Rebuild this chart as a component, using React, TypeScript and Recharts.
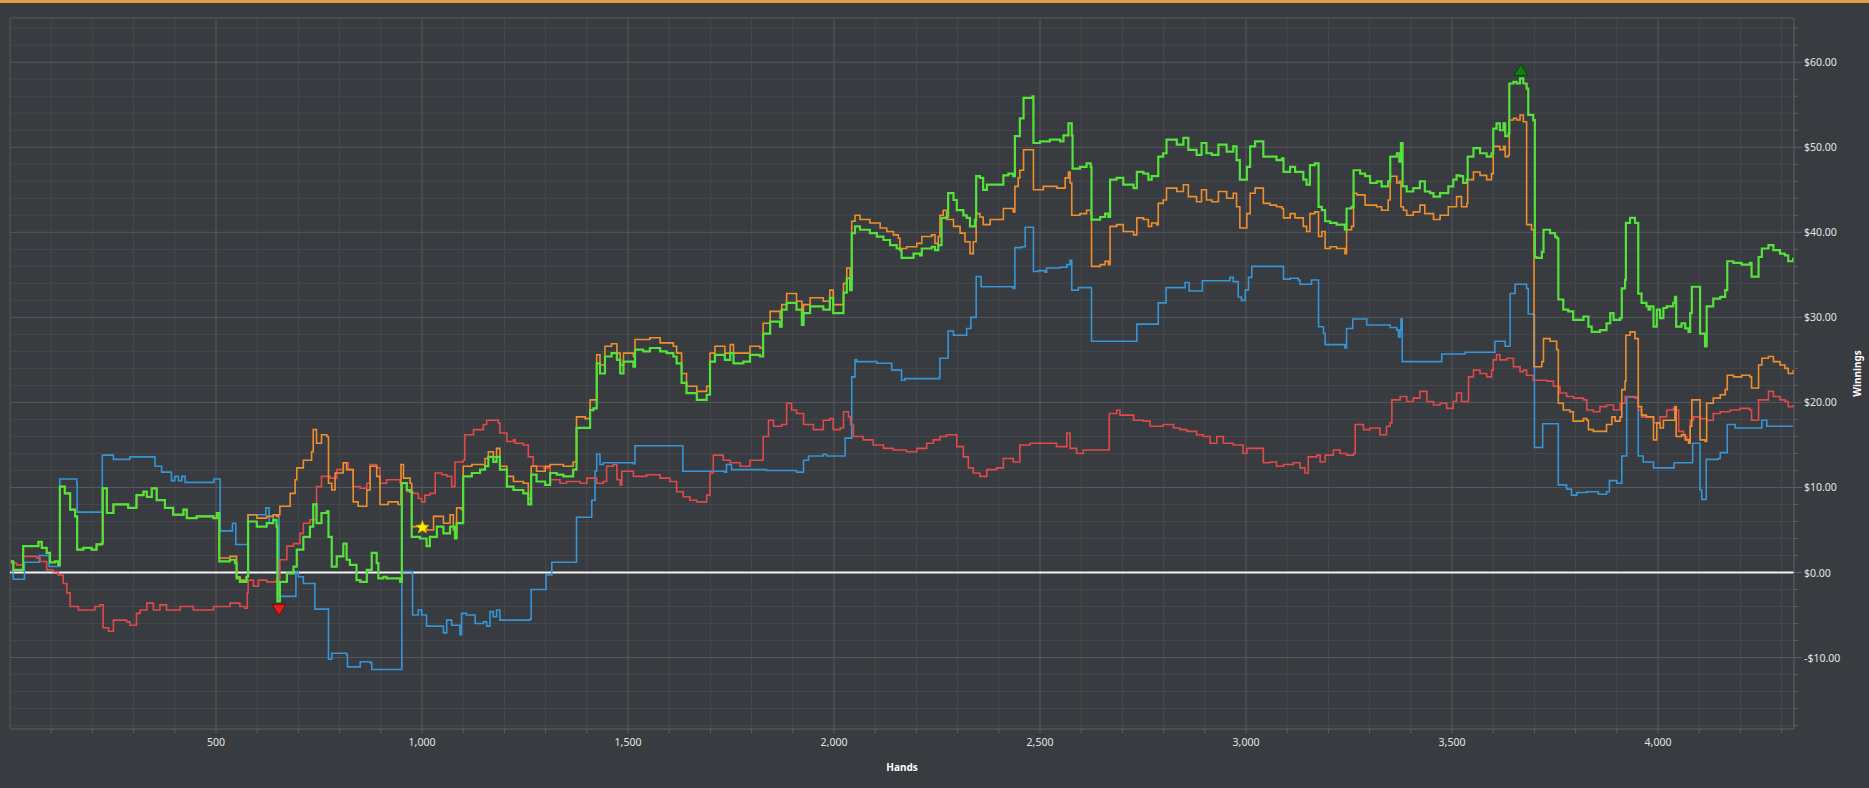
import {
  LineChart,
  Line,
  XAxis,
  YAxis,
  CartesianGrid,
  ReferenceLine,
  ReferenceDot,
} from 'recharts';

// [hands, winnings] pairs
const GREEN: [number, number][] = [
  [2, 1.3], [8, 0.3], [32, 3.1], [69, 3.6], [77, 2.9], [89, 2.3], [97, 1.2], [109, 1.3], [117, 0.9],
  [121, 10.1], [133, 9.3], [146, 7.4], [158, 6.6], [163, 2.7], [178, 2.9], [198, 2.7], [210, 3.3],
  [222, 3.4], [225, 9.9], [235, 7.0], [251, 8.0], [287, 7.6], [307, 9.1], [324, 9.5], [332, 8.9],
  [344, 9.9], [356, 8.5], [376, 7.6], [396, 6.8], [421, 7.4], [429, 6.4], [453, 6.6], [494, 6.4],
  [502, 7.0], [508, 1.3], [534, 1.5], [546, 1.1], [550, -0.7], [558, -1.1], [574, -0.5], [578, 6.0],
  [599, 5.4], [623, 5.8], [639, 6.2], [647, 5.4], [649, -3.4], [655, -1.1], [672, -0.1], [688, 0.7],
  [696, 2.7], [712, 4.2], [728, 5.4], [736, 8.0], [744, 5.8], [756, 7.0], [769, 7.2], [773, 4.2],
  [781, 0.7], [793, 1.9], [809, 3.4], [817, 1.5], [825, 0.9], [841, -0.9], [850, -1.1], [866, 0.3],
  [878, 2.3], [890, 1.1], [894, -0.7], [906, -0.5], [914, -0.7], [947, -1.1], [951, 10.5], [963, 9.7],
  [971, 9.5], [975, 4.2], [995, 4.0], [1011, 3.1], [1019, 4.2], [1036, 5.4], [1052, 4.6], [1068, 5.4],
  [1080, 4.0], [1084, 5.8], [1096, 5.8], [1100, 11.3], [1121, 11.7], [1141, 12.1], [1153, 12.5],
  [1161, 13.6], [1173, 13.0], [1181, 13.6], [1189, 12.1], [1206, 10.1], [1222, 9.7], [1246, 9.3],
  [1258, 8.0], [1265, 11.5], [1278, 10.7], [1299, 10.3], [1311, 11.7], [1327, 11.5], [1343, 11.3],
  [1367, 12.1], [1375, 17.0], [1396, 17.0], [1408, 19.1], [1416, 19.3], [1424, 24.6], [1432, 23.4],
  [1444, 25.4], [1460, 25.8], [1473, 25.0], [1481, 23.4], [1489, 24.8], [1513, 24.2], [1517, 26.2],
  [1537, 26.0], [1553, 26.4], [1578, 26.0], [1594, 25.8], [1610, 25.4], [1618, 24.6], [1630, 22.3],
  [1642, 21.1], [1667, 20.3], [1691, 20.9], [1699, 24.8], [1711, 25.6], [1735, 25.0], [1748, 25.8],
  [1756, 24.6], [1780, 24.8], [1796, 25.6], [1820, 25.4], [1828, 28.1], [1845, 29.5], [1869, 28.9],
  [1873, 30.9], [1885, 31.7], [1909, 30.9], [1922, 29.1], [1926, 30.5], [1942, 31.3], [1974, 30.9],
  [1990, 32.3], [1998, 30.5], [2015, 30.5], [2023, 32.9], [2031, 34.6], [2039, 33.2], [2043, 39.9],
  [2051, 40.7], [2063, 40.3], [2087, 39.9], [2104, 39.5], [2120, 39.1], [2136, 38.5], [2152, 38.1],
  [2160, 37.9], [2164, 37.0], [2176, 37.0], [2193, 37.5], [2209, 37.3], [2213, 38.1], [2237, 38.3],
  [2245, 37.9], [2253, 38.5], [2261, 41.7], [2273, 41.8], [2277, 44.6], [2290, 43.8], [2298, 42.6],
  [2314, 42.0], [2322, 41.7], [2330, 40.7], [2342, 41.5], [2345, 46.6], [2354, 46.4], [2362, 45.0],
  [2371, 45.6], [2407, 45.6], [2411, 46.7], [2423, 46.9], [2435, 46.6], [2439, 51.3], [2451, 53.4],
  [2460, 55.8], [2472, 55.8], [2482, 56.0], [2484, 50.5], [2500, 50.7], [2524, 50.9], [2549, 50.7],
  [2557, 51.4], [2569, 52.8], [2577, 51.4], [2579, 47.5], [2597, 47.7], [2613, 48.1], [2623, 47.7],
  [2625, 41.5], [2646, 41.8], [2658, 42.2], [2666, 41.8], [2670, 46.2], [2686, 46.4], [2702, 45.6],
  [2727, 45.2], [2735, 47.1], [2751, 46.9], [2763, 46.2], [2771, 46.6], [2783, 46.6], [2787, 48.9],
  [2799, 49.3], [2807, 50.9], [2832, 50.3], [2848, 51.1], [2860, 49.7], [2880, 49.1], [2892, 50.5],
  [2904, 49.3], [2917, 49.1], [2933, 50.3], [2953, 49.5], [2969, 50.1], [2977, 48.5], [2985, 46.2],
  [3002, 47.7], [3010, 50.1], [3022, 50.7], [3038, 50.7], [3042, 48.9], [3058, 48.9], [3074, 48.5],
  [3087, 48.7], [3091, 47.1], [3107, 47.7], [3119, 47.1], [3139, 46.2], [3147, 45.6], [3155, 47.9],
  [3167, 48.1], [3176, 43.0], [3184, 42.6], [3192, 41.3], [3204, 41.1], [3220, 40.9], [3240, 40.3],
  [3244, 42.8], [3256, 43.0], [3261, 47.3], [3269, 47.3], [3277, 46.9], [3289, 46.6], [3301, 45.8],
  [3317, 46.0], [3329, 45.4], [3345, 46.0], [3350, 48.9], [3366, 49.3], [3372, 48.3], [3376, 50.5],
  [3380, 45.4], [3390, 44.8], [3406, 45.2], [3422, 46.0], [3434, 44.8], [3447, 44.6], [3455, 44.2],
  [3471, 44.6], [3491, 45.4], [3503, 46.2], [3511, 46.7], [3519, 46.6], [3527, 45.8], [3536, 46.2],
  [3538, 48.9], [3552, 49.9], [3568, 49.3], [3584, 48.9], [3596, 49.3], [3600, 52.2], [3608, 52.8],
  [3616, 52.0], [3625, 52.8], [3629, 51.3], [3637, 51.6], [3639, 57.5], [3649, 57.7], [3657, 57.5],
  [3665, 58.1], [3673, 57.5], [3681, 56.9], [3685, 53.8], [3697, 53.2], [3701, 37.1], [3705, 37.0],
  [3718, 37.7], [3722, 40.3], [3738, 39.9], [3750, 39.5], [3754, 39.3], [3758, 32.1], [3770, 30.9],
  [3782, 30.7], [3794, 29.7], [3819, 30.1], [3827, 30.1], [3831, 28.9], [3839, 28.3], [3859, 28.5],
  [3875, 29.3], [3884, 30.5], [3892, 29.7], [3908, 29.9], [3912, 33.4], [3920, 34.4], [3922, 41.1],
  [3932, 41.7], [3944, 41.1], [3952, 32.8], [3960, 31.7], [3972, 31.3], [3977, 30.9], [3981, 31.3],
  [3989, 28.9], [3997, 30.9], [4005, 29.9], [4013, 31.1], [4021, 31.3], [4037, 31.7], [4041, 32.4],
  [4044, 28.9], [4057, 29.3], [4066, 28.7], [4074, 28.3], [4078, 30.5], [4082, 33.6], [4098, 33.6],
  [4102, 28.1], [4114, 26.6], [4118, 31.3], [4134, 32.2], [4151, 32.4], [4163, 33.2], [4168, 36.6],
  [4183, 36.4], [4203, 36.2], [4223, 36.4], [4227, 34.8], [4235, 34.8], [4244, 37.1], [4252, 38.1],
  [4268, 38.5], [4280, 37.9], [4296, 37.5], [4308, 37.3], [4316, 36.6], [4328, 37.0],
];

const ORANGE: [number, number][] = [
  [2, 1.3], [8, 0.3], [32, 3.1], [69, 3.6], [77, 2.9], [89, 2.3], [97, 1.2], [109, 1.3], [117, 0.9],
  [121, 10.1], [133, 9.3], [146, 7.4], [158, 6.6], [163, 2.7], [178, 2.9], [198, 2.7], [210, 3.3],
  [222, 3.4], [225, 9.9], [235, 7.0], [251, 8.0], [287, 7.6], [307, 9.1], [324, 9.5], [332, 8.9],
  [344, 9.9], [356, 8.5], [376, 7.6], [396, 6.8], [421, 7.4], [429, 6.4], [453, 6.6], [494, 6.4],
  [502, 7.0], [508, 1.7], [534, 1.9], [546, 1.9], [550, -0.5], [558, -0.9], [574, -0.5], [578, 6.8],
  [599, 6.4], [623, 6.6], [639, 6.8], [647, 6.6], [651, 6.8], [655, 7.8], [680, 9.3], [692, 10.9],
  [696, 12.3], [712, 13.2], [732, 14.2], [736, 16.8], [744, 15.2], [756, 16.2], [769, 16.0],
  [773, 10.5], [781, 9.7], [789, 11.7], [809, 12.9], [817, 12.1], [833, 8.3], [845, 7.8], [866, 9.7],
  [874, 12.5], [890, 11.3], [898, 8.0], [918, 8.3], [942, 8.0], [949, 12.7], [955, 11.1], [971, 10.5],
  [975, 5.4], [995, 5.4], [1011, 5.0], [1028, 6.6], [1036, 6.6], [1052, 5.8], [1068, 6.8], [1076, 5.0],
  [1084, 7.6], [1096, 7.4], [1100, 12.5], [1121, 12.7], [1141, 12.7], [1153, 13.4], [1161, 14.2],
  [1173, 13.6], [1181, 14.6], [1189, 12.5], [1206, 11.3], [1222, 10.7], [1246, 10.5], [1258, 8.7],
  [1265, 12.5], [1278, 11.9], [1299, 12.5], [1311, 12.7], [1343, 12.5], [1367, 13.0], [1375, 18.3],
  [1396, 18.1], [1408, 20.3], [1424, 25.6], [1432, 24.4], [1444, 26.6], [1460, 26.9], [1473, 25.8],
  [1481, 24.4], [1489, 25.8], [1513, 25.4], [1517, 27.4], [1553, 27.6], [1578, 27.0], [1610, 26.6],
  [1618, 25.8], [1630, 23.4], [1642, 21.9], [1667, 21.3], [1691, 21.9], [1699, 25.8], [1711, 26.6],
  [1735, 25.8], [1748, 26.8], [1756, 25.8], [1796, 26.6], [1820, 26.4], [1828, 29.3], [1845, 30.7],
  [1869, 29.9], [1873, 31.5], [1885, 32.8], [1909, 31.9], [1922, 29.5], [1926, 31.5], [1942, 32.3],
  [1974, 31.9], [1990, 33.2], [1998, 31.5], [2015, 31.5], [2023, 34.0], [2031, 35.8], [2039, 34.5],
  [2043, 41.3], [2051, 42.0], [2063, 41.5], [2087, 41.1], [2112, 40.5], [2128, 40.1], [2144, 39.7],
  [2156, 39.3], [2160, 38.1], [2176, 38.3], [2201, 38.7], [2213, 39.5], [2237, 39.7], [2245, 38.7],
  [2253, 39.5], [2257, 42.0], [2265, 42.6], [2273, 41.5], [2290, 40.7], [2306, 39.9], [2318, 38.9],
  [2330, 37.5], [2338, 38.9], [2345, 42.2], [2354, 41.8], [2362, 40.9], [2379, 41.5], [2407, 41.5],
  [2411, 42.8], [2435, 42.4], [2439, 45.4], [2447, 46.4], [2451, 47.3], [2460, 49.7], [2482, 49.7],
  [2484, 45.0], [2508, 45.4], [2541, 45.2], [2561, 46.4], [2569, 47.1], [2573, 45.8], [2577, 42.0],
  [2597, 42.2], [2613, 42.6], [2623, 42.2], [2625, 36.0], [2646, 36.2], [2658, 36.6], [2666, 36.2],
  [2670, 40.7], [2686, 40.9], [2702, 40.1], [2727, 39.7], [2735, 41.7], [2751, 41.5], [2763, 40.7],
  [2771, 41.1], [2783, 40.9], [2787, 43.4], [2799, 43.8], [2807, 45.2], [2832, 44.8], [2848, 45.6],
  [2860, 44.2], [2880, 43.6], [2892, 45.0], [2904, 43.8], [2917, 43.6], [2933, 44.8], [2953, 44.0],
  [2969, 44.6], [2977, 43.0], [2985, 40.5], [3002, 42.2], [3010, 44.6], [3022, 45.2], [3038, 45.2],
  [3042, 43.4], [3058, 43.2], [3074, 43.0], [3087, 42.8], [3091, 41.7], [3107, 42.2], [3119, 41.7],
  [3139, 40.7], [3147, 40.1], [3155, 42.2], [3167, 42.4], [3176, 39.5], [3184, 40.1], [3192, 38.1],
  [3204, 38.3], [3220, 38.1], [3240, 37.5], [3244, 40.3], [3256, 40.7], [3261, 44.6], [3269, 44.4],
  [3289, 43.2], [3301, 43.2], [3317, 43.0], [3329, 42.6], [3345, 43.8], [3350, 46.6], [3366, 45.8],
  [3372, 46.0], [3376, 43.0], [3382, 42.6], [3390, 42.0], [3406, 42.4], [3422, 43.2], [3434, 42.2],
  [3455, 41.5], [3471, 42.0], [3491, 43.0], [3511, 44.2], [3523, 43.0], [3536, 43.4], [3538, 46.2],
  [3552, 47.1], [3568, 46.7], [3584, 46.2], [3596, 46.9], [3600, 50.1], [3616, 49.7], [3625, 50.1],
  [3629, 48.9], [3637, 49.1], [3639, 53.2], [3649, 53.4], [3657, 53.2], [3665, 53.8], [3673, 53.0],
  [3681, 40.9], [3693, 40.3], [3699, 24.2], [3705, 24.2], [3718, 24.8], [3722, 27.5], [3738, 27.2],
  [3754, 26.2], [3758, 19.9], [3770, 19.1], [3786, 18.9], [3794, 17.8], [3819, 18.1], [3827, 17.9],
  [3831, 16.8], [3843, 16.6], [3859, 16.6], [3875, 17.4], [3888, 18.3], [3896, 17.8], [3908, 18.3],
  [3912, 21.5], [3920, 22.5], [3922, 27.9], [3932, 28.3], [3944, 27.5], [3952, 19.5], [3960, 18.5],
  [3972, 18.3], [3989, 15.6], [3997, 17.6], [4005, 17.0], [4013, 17.9], [4021, 17.9], [4041, 19.5],
  [4044, 16.0], [4057, 16.2], [4066, 15.6], [4074, 15.2], [4078, 17.2], [4082, 20.3], [4098, 20.3],
  [4102, 15.6], [4114, 15.4], [4118, 19.9], [4134, 20.5], [4151, 20.9], [4163, 21.5], [4168, 23.2],
  [4183, 23.0], [4203, 23.2], [4223, 23.0], [4227, 21.7], [4235, 21.7], [4244, 24.4], [4252, 25.2],
  [4268, 25.4], [4280, 24.8], [4296, 24.4], [4308, 24.0], [4316, 23.4], [4328, 23.8],
];

const RED: [number, number][] = [
  [2, 1.1], [16, 0.9], [32, 1.9], [65, 1.7], [73, 1.3], [89, 0.3], [105, 0.1], [117, -0.3], [129, -1.3],
  [138, -2.4], [146, -4.0], [166, -4.4], [186, -4.4], [206, -4.0], [218, -3.8], [226, -6.5], [239, -6.9],
  [251, -5.6], [283, -5.8], [291, -6.2], [307, -4.8], [316, -4.4], [332, -3.6], [348, -4.4], [364, -3.8],
  [380, -4.4], [413, -4.0], [445, -4.4], [494, -4.0], [510, -4.0], [534, -3.6], [558, -4.0], [570, -4.2],
  [576, -2.4], [578, -0.9], [591, -1.6], [603, -0.9], [623, -1.1], [647, -0.7], [655, 1.5], [672, 3.1],
  [688, 3.4], [704, 4.6], [712, 5.8], [728, 6.2], [744, 10.1], [756, 11.3], [777, 11.1], [793, 12.1],
  [809, 12.9], [821, 12.1], [833, 10.1], [850, 9.9], [866, 10.5], [874, 12.7], [890, 12.3], [898, 10.5],
  [914, 10.9], [947, 10.5], [963, 9.5], [979, 9.3], [991, 8.7], [999, 8.3], [1007, 9.1], [1019, 9.3],
  [1032, 11.7], [1048, 11.5], [1060, 11.3], [1072, 10.1], [1080, 13.0], [1100, 13.2], [1104, 16.2],
  [1125, 16.8], [1149, 17.4], [1157, 17.9], [1173, 17.9], [1185, 17.6], [1189, 16.4], [1206, 15.4],
  [1222, 15.6], [1226, 15.2], [1246, 15.0], [1258, 13.6], [1270, 12.5], [1295, 12.3], [1311, 10.9],
  [1335, 10.5], [1351, 10.7], [1384, 10.5], [1400, 11.1], [1424, 10.5], [1440, 10.7], [1448, 12.5],
  [1464, 12.7], [1473, 10.9], [1481, 10.3], [1485, 11.9], [1513, 11.3], [1545, 11.5], [1578, 11.1],
  [1602, 10.7], [1618, 9.5], [1634, 8.9], [1650, 8.5], [1667, 8.3], [1691, 9.1], [1699, 11.7],
  [1707, 13.8], [1731, 13.2], [1748, 12.9], [1772, 12.5], [1796, 13.2], [1820, 13.2], [1828, 16.0],
  [1841, 17.9], [1853, 17.2], [1873, 17.4], [1885, 19.9], [1897, 19.1], [1909, 18.7], [1926, 17.4],
  [1950, 16.8], [1974, 17.9], [1990, 18.1], [1998, 16.8], [2015, 17.0], [2023, 18.9], [2035, 18.3],
  [2040, 17.4], [2047, 16.0], [2071, 15.6], [2095, 15.0], [2120, 14.6], [2144, 14.4], [2176, 14.2],
  [2201, 14.6], [2225, 15.2], [2241, 15.6], [2257, 16.0], [2273, 16.2], [2290, 16.2], [2298, 14.8],
  [2314, 13.6], [2326, 12.3], [2338, 11.7], [2354, 11.3], [2371, 12.1], [2395, 12.3], [2411, 13.4],
  [2435, 13.0], [2447, 13.0], [2451, 15.0], [2476, 15.2], [2508, 15.2], [2540, 14.8], [2565, 16.4],
  [2573, 14.6], [2589, 14.0], [2605, 14.4], [2662, 14.4], [2668, 18.7], [2686, 19.1], [2694, 18.5],
  [2727, 17.9], [2751, 17.8], [2767, 17.2], [2799, 17.4], [2824, 17.0], [2840, 16.8], [2856, 16.6],
  [2880, 16.2], [2896, 16.0], [2913, 15.2], [2929, 16.0], [2945, 15.2], [2969, 15.0], [2993, 14.0],
  [3002, 14.6], [3034, 14.6], [3042, 12.9], [3058, 13.0], [3074, 12.5], [3091, 12.7], [3115, 12.9],
  [3131, 12.3], [3143, 11.7], [3151, 13.6], [3172, 13.8], [3180, 13.0], [3192, 13.8], [3212, 14.4],
  [3228, 14.0], [3244, 13.8], [3261, 14.0], [3265, 17.4], [3285, 16.8], [3301, 17.0], [3317, 17.0],
  [3325, 16.2], [3341, 17.2], [3350, 17.6], [3354, 20.3], [3374, 20.7], [3390, 20.1], [3406, 20.5],
  [3422, 21.3], [3439, 20.1], [3455, 19.7], [3471, 19.9], [3487, 19.3], [3503, 20.1], [3511, 21.1],
  [3523, 20.1], [3536, 20.1], [3540, 23.0], [3552, 23.8], [3568, 23.4], [3584, 23.0], [3596, 23.8],
  [3600, 25.0], [3608, 25.6], [3616, 25.0], [3633, 25.2], [3649, 24.2], [3665, 23.6], [3673, 23.8],
  [3681, 23.2], [3697, 22.6], [3714, 22.6], [3730, 22.5], [3746, 21.9], [3762, 21.1], [3778, 20.7],
  [3795, 20.5], [3819, 20.3], [3827, 19.1], [3843, 18.9], [3859, 19.5], [3875, 19.7], [3892, 19.1],
  [3908, 19.9], [3920, 20.7], [3932, 20.7], [3944, 20.5], [3952, 19.1], [3960, 18.3], [3972, 18.3],
  [3989, 17.6], [4005, 18.3], [4021, 19.1], [4037, 19.3], [4041, 19.1], [4050, 16.6], [4062, 16.0],
  [4070, 15.6], [4078, 17.9], [4086, 18.3], [4102, 18.1], [4118, 17.9], [4134, 18.7], [4151, 18.9],
  [4175, 19.1], [4199, 19.3], [4223, 19.1], [4227, 17.9], [4240, 17.9], [4244, 20.3], [4268, 21.3],
  [4280, 20.7], [4296, 20.3], [4308, 20.1], [4316, 19.5], [4328, 19.7],
];

const BLUE: [number, number][] = [
  [2, -0.1], [8, -0.8], [34, -0.8], [35, 1.2], [69, 1.2], [71, 2.0], [89, 2.0], [95, 0.7], [120, 0.7],
  [121, 11.0], [158, 11.0], [162, 10.5], [163, 7.1], [222, 7.1], [224, 13.8], [247, 13.8], [251, 13.3],
  [290, 13.3], [291, 13.6], [344, 13.6], [352, 12.5], [368, 11.8], [388, 11.8], [392, 10.8], [400, 11.3],
  [409, 10.8], [417, 11.3], [425, 10.6], [494, 10.6], [495, 11.0], [506, 11.0], [510, 4.9], [538, 4.9],
  [540, 5.8], [546, 5.8], [548, 3.3], [574, 3.3], [577, 6.8], [619, 6.8], [621, 7.6], [627, 7.6],
  [629, 5.8], [639, 6.8], [651, 6.6], [653, -2.8], [692, -2.8], [694, 0.1], [700, -0.5], [712, -1.3],
  [736, -1.3], [740, -4.3], [769, -4.3], [773, -10.2], [781, -9.5], [817, -9.7], [819, -11.1],
  [845, -11.1], [850, -10.5], [874, -10.6], [878, -11.4], [947, -11.4], [951, 0.1], [975, 0.1],
  [977, -5.0], [987, -5.0], [991, -4.4], [999, -5.0], [1011, -6.3], [1048, -6.3], [1052, -7.1],
  [1060, -5.6], [1072, -6.2], [1092, -7.3], [1096, -4.8], [1108, -5.0], [1129, -6.0], [1149, -5.8],
  [1157, -6.3], [1165, -4.6], [1173, -5.2], [1181, -4.4], [1189, -5.6], [1262, -5.5], [1265, -2.0],
  [1298, -2.0], [1301, -0.3], [1315, 1.2], [1371, 1.2], [1375, 6.5], [1408, 6.5], [1412, 8.5],
  [1420, 11.9], [1424, 13.9], [1432, 12.7], [1440, 12.9], [1513, 12.8], [1517, 14.9], [1630, 14.9],
  [1633, 11.9], [1735, 11.8], [1739, 12.7], [1751, 12.1], [1836, 12.0], [1909, 11.8], [1926, 13.2],
  [1938, 13.7], [1974, 13.9], [1982, 13.7], [2023, 13.7], [2027, 15.8], [2039, 15.8], [2043, 23.0],
  [2051, 25.0], [2055, 24.8], [2104, 24.6], [2132, 24.6], [2140, 23.8], [2160, 23.8], [2164, 22.6],
  [2172, 22.8], [2256, 23.0], [2257, 25.2], [2273, 25.2], [2277, 28.4], [2290, 27.9], [2318, 27.9],
  [2322, 28.7], [2330, 28.7], [2332, 30.0], [2342, 30.0], [2345, 34.8], [2354, 34.8], [2357, 33.6],
  [2435, 33.4], [2439, 38.2], [2456, 38.3], [2464, 40.6], [2482, 40.6], [2484, 35.4], [2496, 35.5],
  [2512, 35.3], [2516, 35.8], [2549, 35.9], [2565, 36.2], [2573, 36.7], [2577, 33.2], [2589, 33.2],
  [2593, 33.5], [2623, 33.5], [2625, 27.2], [2731, 27.2], [2735, 29.2], [2783, 29.2], [2787, 31.7],
  [2803, 31.7], [2806, 33.5], [2848, 33.5], [2852, 34.1], [2860, 34.1], [2862, 33.1], [2892, 33.1],
  [2894, 34.3], [2949, 34.3], [2961, 34.7], [2969, 34.2], [2981, 32.4], [2989, 32.0], [2998, 33.2],
  [3006, 34.7], [3014, 36.0], [3087, 36.0], [3091, 34.5], [3107, 34.6], [3127, 34.4], [3131, 33.9],
  [3155, 33.9], [3159, 34.4], [3167, 34.4], [3176, 28.9], [3188, 28.1], [3192, 26.8], [3236, 26.8],
  [3240, 26.4], [3244, 28.7], [3256, 28.7], [3259, 29.8], [3289, 29.8], [3293, 29.1], [3333, 29.1],
  [3350, 28.8], [3366, 28.5], [3370, 27.7], [3374, 28.5], [3376, 29.8], [3379, 24.8], [3467, 24.8],
  [3475, 25.7], [3527, 25.7], [3532, 25.9], [3600, 25.9], [3604, 27.2], [3625, 27.2], [3629, 26.6],
  [3639, 26.6], [3641, 32.8], [3649, 32.8], [3653, 33.9], [3673, 33.9], [3681, 33.4], [3685, 30.4],
  [3697, 30.3], [3700, 14.7], [3718, 14.7], [3720, 17.5], [3754, 17.5], [3758, 10.3], [3778, 9.8],
  [3790, 9.1], [3803, 9.4], [3827, 9.5], [3851, 9.5], [3855, 9.2], [3875, 9.5], [3882, 10.8],
  [3900, 10.5], [3908, 10.5], [3912, 13.7], [3920, 13.7], [3924, 20.6], [3944, 20.6], [3952, 13.7],
  [3964, 13.0], [3989, 12.3], [4037, 12.3], [4039, 12.9], [4078, 12.9], [4084, 15.2], [4098, 15.2],
  [4102, 9.7], [4106, 8.6], [4114, 8.6], [4117, 13.3], [4146, 13.4], [4151, 14.1], [4163, 14.1],
  [4168, 17.4], [4187, 17.0], [4248, 17.0], [4252, 17.9], [4264, 17.2], [4325, 17.1],
];

// marker positions (hands, winnings)
const MIN_POINT = { h: 653, v: -3.4 };
const MAX_POINT = { h: 3667, v: 58.1 };
const STAR_POINT = { h: 1001, v: 5.3 };

const X_DOMAIN: [number, number] = [0, 4330];
const Y_DOMAIN: [number, number] = [-18.4, 65.2];
const X_TICKS = Array.from({ length: 43 }, (_, i) => (i + 1) * 100);
const Y_TICKS = Array.from({ length: 42 }, (_, i) => -18 + i * 2);
const X_MAJOR = X_TICKS.filter((t) => t % 500 === 0);
const Y_MAJOR = Y_TICKS.filter((t) => t % 10 === 0);

const BG = '#383b3f';
const MINOR_GRID = '#45484c';
const MAJOR_GRID = '#56595d';
const BORDER = '#5e6165';
const TEXT = '#e4e4e4';
const FONT = "'Noto Sans', sans-serif";

const toRows = (pairs: [number, number][]) => pairs.map(([h, v]) => ({ h, v }));

function formatMoney(v: number): string {
  return v < 0 ? `-$${Math.abs(v).toFixed(2)}` : `$${v.toFixed(2)}`;
}

function XTick(props: any) {
  const { x, y, payload } = props;
  const major = payload.value % 500 === 0;
  return (
    <g>
      <line x1={x} y1={y} x2={x} y2={y + 4} stroke={BORDER} />
      {major && (
        <text x={x} y={y + 17} textAnchor="middle" fill={TEXT} fontSize={10.5} fontFamily={FONT}>
          {payload.value.toLocaleString('en-US')}
        </text>
      )}
    </g>
  );
}

function YTick(props: any) {
  const { x, y, payload } = props;
  const major = payload.value % 10 === 0;
  return (
    <g>
      <line x1={x} y1={y} x2={x + (major ? 8 : 4)} y2={y} stroke={BORDER} />
      {major && (
        <text x={x + 10} y={y + 4} textAnchor="start" fill={TEXT} fontSize={10.5} fontFamily={FONT}>
          {formatMoney(payload.value)}
        </text>
      )}
    </g>
  );
}

const downTriangle = (p: any) => (
  <polygon
    points={`${p.cx - 7},${p.cy + 3} ${p.cx + 7},${p.cy + 3} ${p.cx},${p.cy + 14}`}
    fill="#e51c1c"
    stroke="#7d0a0a"
    strokeWidth={1}
  />
);

const upTriangle = (p: any) => (
  <polygon
    points={`${p.cx - 7},${p.cy - 3} ${p.cx + 7},${p.cy - 3} ${p.cx},${p.cy - 14}`}
    fill="#0f7f14"
    stroke="#06470a"
    strokeWidth={1}
  />
);

const star = (p: any) => {
  const pts: string[] = [];
  for (let i = 0; i < 10; i++) {
    const r = i % 2 === 0 ? 7 : 3;
    const a = -Math.PI / 2 + (i * Math.PI) / 5;
    pts.push(`${p.cx + r * Math.cos(a)},${p.cy + r * Math.sin(a)}`);
  }
  return <polygon points={pts.join(' ')} fill="#fff000" stroke="#b8a800" strokeWidth={0.8} />;
};

export default function App() {
  return (
    <div style={{ position: 'relative', width: 1869, height: 788, background: BG, fontFamily: FONT }}>
      <style>{`body{margin:0;background:${BG};}`}</style>
      <div style={{ position: 'absolute', left: 0, top: 0, width: 1869, height: 3, background: '#e39f3f' }} />
      <LineChart width={1869} height={788} margin={{ top: 18, right: 0, bottom: 0, left: 10 }}>
        <CartesianGrid
          stroke={MINOR_GRID}
          horizontalValues={Y_TICKS.filter((t) => t % 10 !== 0)}
          verticalValues={X_TICKS.filter((t) => t % 500 !== 0)}
        />
        <CartesianGrid
          stroke={MAJOR_GRID}
          horizontalValues={[Y_DOMAIN[1], ...Y_MAJOR]}
          verticalValues={[X_DOMAIN[0], ...X_MAJOR]}
        />
        <XAxis
          type="number"
          dataKey="h"
          domain={X_DOMAIN}
          allowDataOverflow
          ticks={X_TICKS}
          interval={0}
          tick={XTick}
          tickSize={0}
          tickMargin={0}
          tickLine={false}
          axisLine={{ stroke: BORDER }}
          height={59}
          label={{
            value: 'Hands',
            content: (p: any) => {
              const vb = p.viewBox;
              return (
                <text x={vb.x + vb.width / 2} y={vb.y + 42} textAnchor="middle" fill="#ffffff" fontSize={10} fontWeight="bold" fontFamily={FONT}>
                  Hands
                </text>
              );
            },
          }}
        />
        <YAxis
          type="number"
          orientation="right"
          domain={Y_DOMAIN}
          allowDataOverflow
          ticks={Y_TICKS}
          interval={0}
          tick={YTick}
          tickSize={0}
          tickMargin={0}
          tickLine={false}
          axisLine={{ stroke: BORDER }}
          width={75}
          label={{
            value: 'Winnings',
            content: (p: any) => {
              const vb = p.viewBox;
              const cx = vb.x + vb.width - 12;
              const cy = vb.y + vb.height / 2;
              return (
                <text x={cx} y={cy} transform={`rotate(-90 ${cx} ${cy})`} textAnchor="middle" dominantBaseline="central" fill="#ffffff" fontSize={10} fontWeight="bold" fontFamily={FONT}>
                  Winnings
                </text>
              );
            },
          }}
        />
        <ReferenceLine y={0} stroke="#f4f4f4" strokeWidth={2} />
        <Line data={toRows(BLUE)} dataKey="v" type="stepAfter" stroke="#3595d6" strokeWidth={1.6} dot={false} isAnimationActive={false} />
        <Line data={toRows(RED)} dataKey="v" type="stepAfter" stroke="#e04a4a" strokeWidth={1.6} dot={false} isAnimationActive={false} />
        <Line data={toRows(ORANGE)} dataKey="v" type="stepAfter" stroke="#ef8f2c" strokeWidth={1.6} dot={false} isAnimationActive={false} />
        <Line data={toRows(GREEN)} dataKey="v" type="stepAfter" stroke="#55e23a" strokeWidth={2.2} dot={false} isAnimationActive={false} />
        <ReferenceDot x={MIN_POINT.h} y={MIN_POINT.v} r={6} shape={downTriangle} />
        <ReferenceDot x={MAX_POINT.h} y={MAX_POINT.v} r={6} shape={upTriangle} />
        <ReferenceDot x={STAR_POINT.h} y={STAR_POINT.v} r={6} shape={star} />
      </LineChart>
    </div>
  );
}
